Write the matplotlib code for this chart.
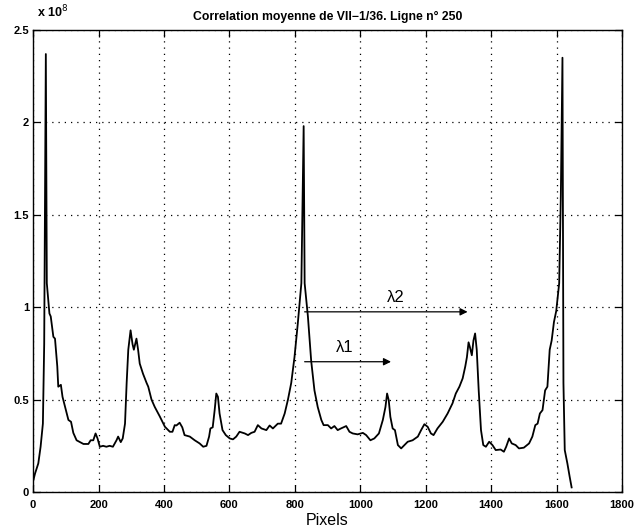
import matplotlib
matplotlib.use("Agg")
import matplotlib.pyplot as plt
from matplotlib.ticker import FixedLocator, FuncFormatter

# Mean correlation profile along row 250 (values in units of 1e8)
pixels = [
    1, 6, 16, 23, 30, 34, 39, 42, 50, 54, 62, 67, 74, 77, 85, 90, 98, 108, 116,
    123, 133, 154, 169, 176, 184, 191, 197, 204, 214, 224, 234, 244, 255, 260,
    268, 274, 281, 286, 291, 298, 304, 308, 316, 321, 326, 336, 347, 352, 362,
    372, 387, 403, 418, 426, 433, 438, 448, 456, 463, 479, 494, 509, 520, 530,
    538, 542, 549, 555, 560, 565, 570, 579, 589, 601, 611, 621, 631, 647, 657,
    667, 677, 687, 698, 713, 723, 733, 748, 758, 769, 779, 789, 799, 809, 820,
    827, 830, 840, 850, 860, 870, 881, 888, 901, 911, 921, 931, 941, 952, 957,
    967, 977, 992, 1008, 1018, 1031, 1043, 1057, 1069, 1077, 1082, 1087, 1092,
    1099, 1106, 1115, 1125, 1135, 1145, 1160, 1176, 1186, 1196, 1206, 1216,
    1224, 1236, 1252, 1267, 1282, 1292, 1303, 1313, 1321, 1326, 1331, 1335,
    1341, 1346, 1351, 1356, 1362, 1369, 1376, 1384, 1394, 1404, 1414, 1429,
    1439, 1446, 1455, 1463, 1475, 1485, 1500, 1516, 1526, 1535, 1542, 1549,
    1557, 1565, 1572, 1579, 1585, 1592, 1599, 1608, 1613, 1618, 1621, 1625,
    1633, 1640, 1646,
]
correlation = [
    0.065, 0.10, 0.155, 0.245, 0.37, 0.80, 2.37, 1.13, 0.966, 0.95, 0.84, 0.83,
    0.68, 0.57, 0.58, 0.515, 0.46, 0.39, 0.38, 0.32, 0.28, 0.26, 0.26, 0.28,
    0.28, 0.317, 0.29, 0.245, 0.25, 0.245, 0.25, 0.245, 0.28, 0.30, 0.27, 0.29,
    0.37, 0.59, 0.77, 0.875, 0.80, 0.77, 0.83, 0.77, 0.695, 0.64, 0.59, 0.57,
    0.50, 0.46, 0.41, 0.353, 0.326, 0.326, 0.362, 0.36, 0.375, 0.35, 0.308,
    0.30, 0.28, 0.263, 0.245, 0.25, 0.30, 0.344, 0.35, 0.443, 0.533, 0.515,
    0.425, 0.335, 0.308, 0.29, 0.285, 0.30, 0.326, 0.317, 0.308, 0.32, 0.326,
    0.362, 0.344, 0.335, 0.36, 0.344, 0.37, 0.37, 0.425, 0.50, 0.59, 0.73,
    0.91, 1.13, 1.98, 1.13, 0.95, 0.71, 0.55, 0.46, 0.39, 0.362, 0.362, 0.344,
    0.357, 0.335, 0.344, 0.353, 0.357, 0.326, 0.317, 0.312, 0.32, 0.308, 0.28,
    0.29, 0.317, 0.39, 0.46, 0.533, 0.497, 0.407, 0.344, 0.335, 0.254, 0.236,
    0.254, 0.272, 0.28, 0.30, 0.335, 0.367, 0.353, 0.317, 0.308, 0.344, 0.38,
    0.425, 0.48, 0.533, 0.57, 0.615, 0.68, 0.73, 0.81, 0.785, 0.74, 0.82,
    0.858, 0.77, 0.55, 0.335, 0.254, 0.245, 0.272, 0.254, 0.227, 0.23, 0.218,
    0.245, 0.29, 0.263, 0.254, 0.236, 0.24, 0.263, 0.30, 0.362, 0.37, 0.425,
    0.443, 0.55, 0.57, 0.77, 0.82, 0.92, 0.98, 1.13, 1.60, 2.35, 0.59, 0.227,
    0.155, 0.083, 0.025,
]

# Period arrows: (label, start pixel, end pixel, height, label x)
periods = [
    ("\u03bb1", 830, 1094, 0.705, 952),
    ("\u03bb2", 830, 1328, 0.975, 1109),
]
x_ticks = [0, 200, 400, 600, 800, 1000, 1200, 1400, 1600, 1800]
y_ticks = [0, 0.5, 1, 1.5, 2, 2.5]

plt.rcParams["font.family"] = ["Liberation Sans", "DejaVu Sans"]

fig = plt.figure(figsize=(6.36, 5.31), dpi=100)
ax = fig.add_axes([0.052, 0.0734, 0.926, 0.8701])

ax.plot(pixels, correlation, color="black", linewidth=1.3)

for label, x0, x1, y, xl in periods:
    ax.annotate(
        "", xy=(x1, y), xytext=(x0, y),
        arrowprops=dict(arrowstyle="-|>", color="black", lw=0.9,
                        mutation_scale=11, shrinkA=0, shrinkB=0),
    )
    ax.text(xl, y + 0.075, label, fontsize=12, ha="center", va="center")

ax.set_xlim(0, 1800)
ax.set_ylim(0, 2.5)
ax.xaxis.set_major_locator(FixedLocator(x_ticks))
ax.yaxis.set_major_locator(FixedLocator(y_ticks))
ax.yaxis.set_major_formatter(FuncFormatter(lambda v, _: f"{v:g}"))
ax.tick_params(direction="in", length=5, width=0.9, top=True, right=True,
               labelsize=8, colors="black")
ax.tick_params(axis="x", pad=6)
ax.tick_params(axis="y", pad=3)
for lbl in ax.get_xticklabels() + ax.get_yticklabels():
    lbl.set_fontweight("bold")
for spine in ax.spines.values():
    spine.set_linewidth(1.0)

ax.grid(True, color="black", linestyle=(0, (1, 4)), linewidth=0.9)

ax.set_title("Correlation moyenne de VII\u22121/36. Ligne n\u00b0 250",
             fontsize=8.8, fontweight="bold", pad=7)
ax.set_xlabel("Pixels", fontsize=11.5, labelpad=2)
fig.text(0.058, 0.962, "x 10$^8$", fontsize=9, fontweight="bold",
         ha="left", va="bottom")

fig.savefig("out.png", dpi=100, facecolor="white")
